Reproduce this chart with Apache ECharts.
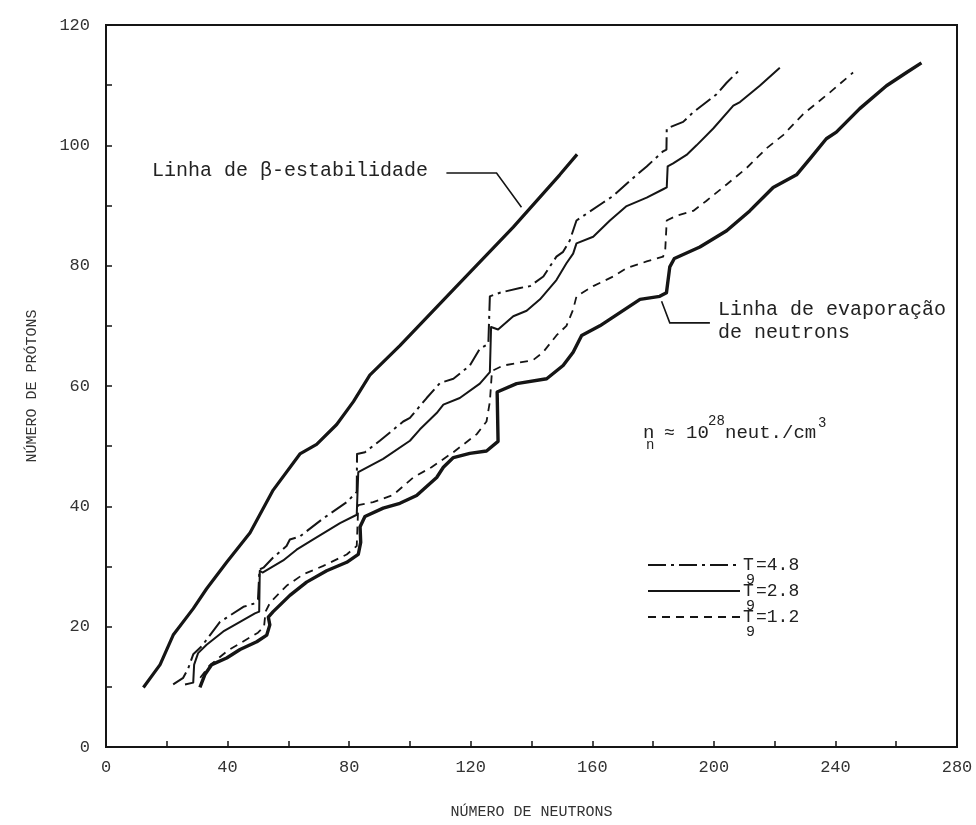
<!DOCTYPE html>
<html><head><meta charset="utf-8">
<script src="https://cdn.jsdelivr.net/npm/echarts@6/dist/echarts.min.js"></script>
<style>html,body{margin:0;padding:0;background:#fff}#c{width:976px;height:825px}</style>
</head><body><div id="c"></div>
<script>
const xTickLabels = [0, 40, 80, 120, 160, 200, 240, 280];
const yTickLabels = [0, 20, 40, 60, 80, 100, 120];

// [neutrons N, protons Z]
const betaLine = [[12.3,9.9],[17.8,13.7],[22.1,18.6],[28.7,23.0],[33.1,26.3],[39.7,30.7],[47.4,35.6],[55.0,42.7],[63.8,48.7],[69.3,50.3],[75.9,53.6],[81.4,57.4],[86.8,61.8],[96.7,66.7],[115.4,76.6],[134.0,86.4],[149.3,95.1],[155.0,98.5]];

const t48 = [[22.1,10.4],[25.4,11.5],[27.0,13.0],[28.7,15.4],[31.4,16.7],[37.5,20.8],[39.7,21.5],[45.2,23.3],[48.5,23.8],[50.0,24.5],[50.5,29.5],[51.8,29.8],[55.0,31.5],[59.4,33.4],[60.5,34.5],[63.8,35.0],[71.5,38.0],[79.2,40.7],[82.5,42.4],[82.6,48.7],[85.2,49.0],[90.1,50.9],[97.8,54.1],[100.0,54.7],[105.5,58.0],[109.9,60.5],[114.3,61.2],[119.7,63.4],[123.0,66.2],[125.8,67.0],[126.3,74.9],[129.6,75.5],[136.2,76.3],[139.5,76.6],[143.9,78.2],[148.2,81.5],[150.4,82.3],[152.6,84.2],[154.8,87.5],[163.6,90.5],[166.9,91.6],[174.6,95.1],[177.9,96.5],[183.3,99.0],[184.4,99.3],[184.5,102.8],[189.9,103.9],[193.2,105.5],[197.6,107.2],[200.9,108.5],[204.2,110.4],[208.6,112.6]];

const t28 = [[26.0,10.4],[28.7,10.7],[29.0,13.7],[30.3,15.6],[33.1,17.0],[38.6,19.2],[44.1,20.8],[49.0,22.2],[50.4,22.5],[50.6,29.3],[51.5,29.0],[58.3,31.0],[62.7,32.8],[68.2,34.5],[77.0,37.2],[82.5,38.6],[83.0,45.7],[83.6,45.7],[91.2,47.9],[100.0,50.9],[103.3,52.8],[108.8,55.5],[111.0,56.9],[116.4,58.0],[123.0,60.4],[126.3,62.3],[126.7,69.8],[129.0,69.4],[134.0,71.6],[138.4,72.5],[142.8,74.4],[148.2,77.6],[151.5,80.4],[153.7,82.0],[154.8,83.7],[160.3,84.8],[165.8,87.5],[171.3,89.9],[177.9,91.3],[183.3,92.7],[184.5,93.0],[184.8,96.5],[186.6,97.0],[191.0,98.4],[194.3,100.0],[199.8,102.8],[206.4,106.6],[208.6,107.2],[215.1,109.9],[221.7,112.9]];

const t12 = [[31.0,11.5],[34.0,13.5],[40.0,16.0],[45.0,17.5],[50.0,19.0],[52.0,20.0],[52.5,22.5],[54.0,24.0],[59.4,26.8],[64.9,28.7],[71.5,30.1],[79.2,32.0],[82.5,33.4],[83.0,40.2],[87.9,40.7],[94.5,41.9],[101.1,44.8],[107.1,46.5],[114.3,49.0],[119.7,51.1],[122.0,52.0],[125.2,54.1],[126.3,57.4],[127.0,62.5],[130.7,63.4],[140.5,64.3],[143.8,65.6],[148.2,68.4],[151.5,70.0],[153.7,72.7],[154.8,74.9],[160.3,76.6],[166.9,78.2],[171.3,79.6],[177.9,80.7],[183.3,81.5],[184.0,82.6],[184.5,87.5],[187.7,88.3],[193.2,89.1],[197.6,90.8],[204.2,93.5],[210.7,96.2],[217.3,99.5],[222.8,101.7],[229.4,105.2],[238.2,108.8],[245.8,112.1]];

const evapLine = [[30.9,9.9],[32.6,12.1],[34.8,13.7],[39.7,14.8],[44.1,16.2],[49.6,17.5],[52.9,18.6],[53.9,20.3],[53.4,21.6],[55.0,22.5],[60.5,25.2],[66.0,27.4],[72.6,29.3],[79.2,30.7],[83.0,32.0],[83.8,34.0],[83.6,36.6],[85.2,38.3],[91.2,39.7],[96.7,40.5],[102.2,41.8],[108.8,44.8],[111.0,46.5],[114.3,48.1],[119.7,48.8],[125.2,49.2],[129.0,50.8],[128.7,59.0],[135.1,60.4],[145.0,61.2],[150.4,63.4],[153.7,65.6],[156.5,68.4],[162.5,70.0],[169.1,72.2],[175.7,74.4],[182.2,74.9],[184.4,75.5],[185.5,79.8],[187.0,81.2],[195.4,83.1],[204.2,85.8],[211.8,89.1],[219.5,93.0],[227.2,95.1],[232.0,98.0],[237.0,101.1],[240.3,102.2],[248.0,106.1],[256.8,109.9],[263.4,112.1],[268.3,113.7]];

const betaArrow = [[112.0,95.4],[128.5,95.4],[136.7,89.7]];
const evapArrow = [[198.7,70.5],[185.5,70.5],[182.8,74.1]];

const legendValues = ['=4.8', '=2.8', '=1.2'];
const betaLabel = 'Linha de β-estabilidade';
const evapLabel = ['Linha de evaporação', 'de neutrons'];

const INK = '#151515';
const FONT = '"Liberation Mono", "DejaVu Sans Mono", monospace';
const dashDot = [18, 5, 3, 5];
const dashed = [8, 6];

const chart = echarts.init(document.getElementById('c'), null, {renderer: 'canvas'});

function txt(x, y, s, size) {
  return {type: 'text', x: x, y: y, z: 10,
    style: {text: s, fill: '#222', fontFamily: FONT, fontSize: size, verticalAlign: 'middle', align: 'left'}};
}
const legendStyles = [dashDot, null, dashed];
const legendY = [565, 591, 617];
const graphics = [];
legendY.forEach((y, i) => {
  graphics.push({type: 'line', z: 10, shape: {x1: 648, y1: y, x2: 740, y2: y},
    style: {stroke: INK, lineWidth: 2, lineDash: legendStyles[i] || null}});
  graphics.push(txt(743, y, 'T', 18));
  graphics.push(txt(746, y + 15, '9', 15));
  graphics.push(txt(756, y, legendValues[i], 18));
});
graphics.push(txt(152, 171, betaLabel, 20));
graphics.push(txt(718, 310, evapLabel[0], 20));
graphics.push(txt(718, 333, evapLabel[1], 20));
graphics.push(txt(643, 433, 'n', 19));
graphics.push(txt(646, 445, 'n', 14));
graphics.push(txt(664, 433, '≈', 18));
graphics.push(txt(686, 433, '10', 19));
graphics.push(txt(708, 421, '28', 14));
graphics.push(txt(725, 433, 'neut./cm', 19));
graphics.push(txt(818, 423, '3', 14));

function lineSeries(name, data, width, dash) {
  return {name: name, type: 'line', data: data, showSymbol: false, symbol: 'none',
    lineStyle: {color: INK, width: width, type: dash || 'solid', join: 'round'},
    z: 3, silent: true};
}

chart.setOption({
  animation: false,
  backgroundColor: '#fff',
  grid: {left: 106, right: 19, top: 25, bottom: 68, show: true, borderColor: INK, borderWidth: 2, backgroundColor: 'transparent'},
  xAxis: {
    type: 'value', min: 0, max: 280, interval: 20,
    name: 'NÚMERO DE NEUTRONS', nameLocation: 'middle', nameGap: 58,
    nameTextStyle: {fontFamily: FONT, fontSize: 15, color: '#333'},
    axisLine: {show: true, lineStyle: {color: INK, width: 2}},
    axisTick: {show: true, inside: true, length: 6, lineStyle: {color: INK, width: 1.5}},
    axisLabel: {fontFamily: FONT, fontSize: 17, color: '#333', margin: 12,
      formatter: v => xTickLabels.includes(v) ? String(v) : ''},
    splitLine: {show: false}
  },
  yAxis: {
    type: 'value', min: 0, max: 120, interval: 10,
    name: 'NÚMERO DE PRÓTONS', nameLocation: 'middle', nameGap: 66,
    nameTextStyle: {fontFamily: FONT, fontSize: 15, color: '#333'},
    axisLine: {show: true, lineStyle: {color: INK, width: 2}},
    axisTick: {show: true, inside: true, length: 6, lineStyle: {color: INK, width: 1.5}},
    axisLabel: {fontFamily: FONT, fontSize: 17, color: '#333', margin: 16,
      formatter: v => yTickLabels.includes(v) ? String(v) : ''},
    splitLine: {show: false}
  },
  graphic: graphics,
  series: [
    lineSeries('beta', betaLine, 3.2),
    lineSeries('T9=4.8', t48, 2, dashDot),
    lineSeries('T9=2.8', t28, 2),
    lineSeries('T9=1.2', t12, 1.8, dashed),
    lineSeries('evap', evapLine, 3.4),
    {type: 'lines', coordinateSystem: 'cartesian2d', polyline: true, silent: true,
      symbol: ['none', 'arrow'], symbolSize: 9,
      lineStyle: {color: INK, width: 1.6, opacity: 1},
      data: [{coords: betaArrow}, {coords: evapArrow}], z: 5}
  ]
});
</script>
</body></html>
